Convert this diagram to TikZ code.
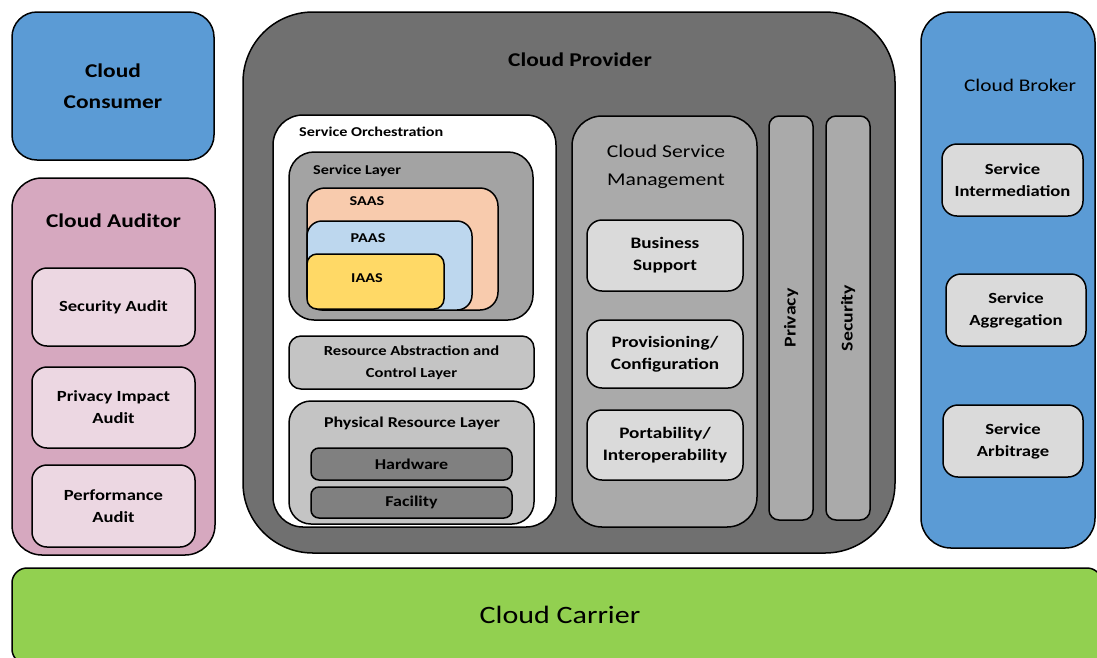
\documentclass[tikz,border=0pt]{standalone}
\usepackage{fontspec}
\setmainfont{Carlito}[FakeStretch=1.2]
\usetikzlibrary{positioning}
\definecolor{roleblue}{RGB}{91,155,213}
\definecolor{auditpink}{RGB}{214,168,191}
\definecolor{auditlight}{RGB}{236,215,226}
\definecolor{providergray}{RGB}{112,112,112}
\definecolor{layergray}{RGB}{163,163,163}
\definecolor{lightgray}{RGB}{196,196,196}
\definecolor{midgray}{RGB}{170,170,170}
\definecolor{palegray}{RGB}{218,218,218}
\definecolor{darkbox}{RGB}{128,128,128}
\definecolor{saascol}{RGB}{248,203,173}
\definecolor{paascol}{RGB}{189,215,238}
\definecolor{iaascol}{RGB}{255,217,102}
\definecolor{carriergreen}{RGB}{146,208,80}
\newcommand{\txtsize}[2]{\fontsize{#1}{#2}\selectfont}
\begin{document}
\begin{tikzpicture}[x=1pt, y=-1pt,
    blk/.style={draw=black, line width=1.5pt, align=center, inner sep=0pt},
    ttl/.style={inner sep=0pt, align=center}]
\useasboundingbox (0,0) rectangle (1097,657);

% left column
\node[blk, fill=roleblue, rounded corners=25pt, minimum width=202pt, minimum height=148pt, font=\txtsize{19.5}{31}\bfseries] (consumer) at (113,86) {Cloud\\Consumer};
\node[blk, fill=auditpink, rounded corners=30pt, minimum width=203pt, minimum height=377pt] (auditor) at (113.5,366.5) {};
\node[ttl, font=\txtsize{19.5}{24}\bfseries] (auditortitle) at (113.5,221) {Cloud Auditor};
\node[blk, fill=auditlight, rounded corners=15pt, minimum width=163pt, minimum height=78pt, font=\txtsize{15.5}{22}\bfseries] (secaudit) at (113.5,307) {Security Audit};
\node[blk, fill=auditlight, rounded corners=15pt, minimum width=163pt, minimum height=81pt, font=\txtsize{15.5}{22}\bfseries] (privaudit) at (113.5,407.5) {Privacy Impact\\Audit};
\node[blk, fill=auditlight, rounded corners=15pt, minimum width=163pt, minimum height=82pt, font=\txtsize{15.5}{22}\bfseries] (perfaudit) at (113.5,506) {Performance\\Audit};

% provider
\node[blk, fill=providergray, rounded corners=70pt, minimum width=652pt, minimum height=541pt] (provider) at (569,282.5) {};
\node[ttl, font=\txtsize{19.5}{24}\bfseries] (providertitle) at (580,60) {Cloud Provider};

\node[blk, fill=white, rounded corners=30pt, minimum width=283pt, minimum height=412pt] (orch) at (414.5,321) {};
\node[ttl, anchor=west, font=\txtsize{13.5}{16}\bfseries] (orchtitle) at (299,132) {Service Orchestration};
\node[blk, fill=layergray, rounded corners=25pt, minimum width=244pt, minimum height=168pt] (svclayer) at (411,236) {};
\node[ttl, anchor=west, font=\txtsize{13.5}{16}\bfseries] (svctitle) at (313,171) {Service Layer};
\node[blk, fill=saascol, rounded corners=18pt, minimum width=191pt, minimum height=122pt] (saas) at (402.5,249) {};
\node[ttl, font=\txtsize{13.5}{16}\bfseries] (saastitle) at (367,201) {SAAS};
\node[blk, fill=paascol, rounded corners=15pt, minimum width=165pt, minimum height=89pt] (paas) at (389.5,265.5) {};
\node[ttl, font=\txtsize{13.5}{16}\bfseries] (paastitle) at (368,238) {PAAS};
\node[blk, fill=iaascol, rounded corners=10pt, minimum width=137pt, minimum height=55pt] (iaas) at (375.5,281.5) {};
\node[ttl, font=\txtsize{13.5}{16}\bfseries] (iaastitle) at (367,278) {IAAS};

\node[blk, fill=lightgray, rounded corners=12pt, minimum width=245pt, minimum height=53pt, font=\txtsize{13.8}{22}\bfseries] (rac) at (411.5,362.5) {Resource Abstraction and\\Control Layer};
\node[blk, fill=lightgray, rounded corners=22pt, minimum width=245pt, minimum height=123pt] (prl) at (411.5,462.5) {};
\node[ttl, font=\txtsize{15}{18}\bfseries] (prltitle) at (412,423) {Physical Resource Layer};
\node[blk, fill=darkbox, rounded corners=8pt, minimum width=201pt, minimum height=32pt, font=\txtsize{15}{18}\bfseries] (hw) at (411.5,464) {Hardware};
\node[blk, fill=darkbox, rounded corners=8pt, minimum width=201pt, minimum height=31pt, font=\txtsize{15}{18}\bfseries] (fac) at (411.5,502.5) {Facility};

\node[blk, fill=midgray, rounded corners=30pt, minimum width=185pt, minimum height=411pt] (csm) at (664.5,321.5) {};
\node[ttl, font=\txtsize{18}{28}] (csmtitle) at (666,167) {Cloud Service\\Management};
\node[blk, fill=palegray, rounded corners=15pt, minimum width=156pt, minimum height=71pt, font=\txtsize{16}{22}\bfseries] (bizsup) at (665,255.5) {Business\\Support};
\node[blk, fill=palegray, rounded corners=15pt, minimum width=156pt, minimum height=68pt, font=\txtsize{16}{22}\bfseries] (provcfg) at (665,354) {Provisioning/\\Configuration};
\node[blk, fill=palegray, rounded corners=15pt, minimum width=156pt, minimum height=70pt, font=\txtsize{16}{22}\bfseries] (portint) at (665,445) {Portability/\\Interoperability};

\node[blk, fill=midgray, rounded corners=10pt, rotate=90, minimum width=404pt, minimum height=44pt, font=\txtsize{16.5}{20}\bfseries] (privacy) at (791,318) {Privacy};
\node[blk, fill=midgray, rounded corners=10pt, rotate=90, minimum width=404pt, minimum height=44pt, font=\txtsize{16.5}{20}\bfseries] (security) at (848,318) {Security};

% broker
\node[blk, fill=roleblue, rounded corners=30pt, minimum width=174pt, minimum height=536pt] (broker) at (1008,280) {};
\node[ttl, font=\txtsize{17.8}{21}] (brokertitle) at (1020,85) {Cloud Broker};
\node[blk, fill=palegray, rounded corners=15pt, minimum width=141pt, minimum height=72pt, font=\txtsize{15.5}{22}\bfseries] (intermed) at (1012.5,180) {Service\\Intermediation};
\node[blk, fill=palegray, rounded corners=15pt, minimum width=140pt, minimum height=72pt, font=\txtsize{15.5}{22}\bfseries] (aggreg) at (1016,310) {Service\\Aggregation};
\node[blk, fill=palegray, rounded corners=15pt, minimum width=140pt, minimum height=72pt, font=\txtsize{15.5}{22}\bfseries] (arbit) at (1013,441) {Service\\Arbitrage};

% carrier
\node[blk, fill=carriergreen, rounded corners=15pt, minimum width=1090pt, minimum height=96pt] (carrier) at (557,616) {};
\node[ttl, font=\txtsize{25}{29}] (carriertitle) at (560,615) {Cloud Carrier};
\end{tikzpicture}
\end{document}
